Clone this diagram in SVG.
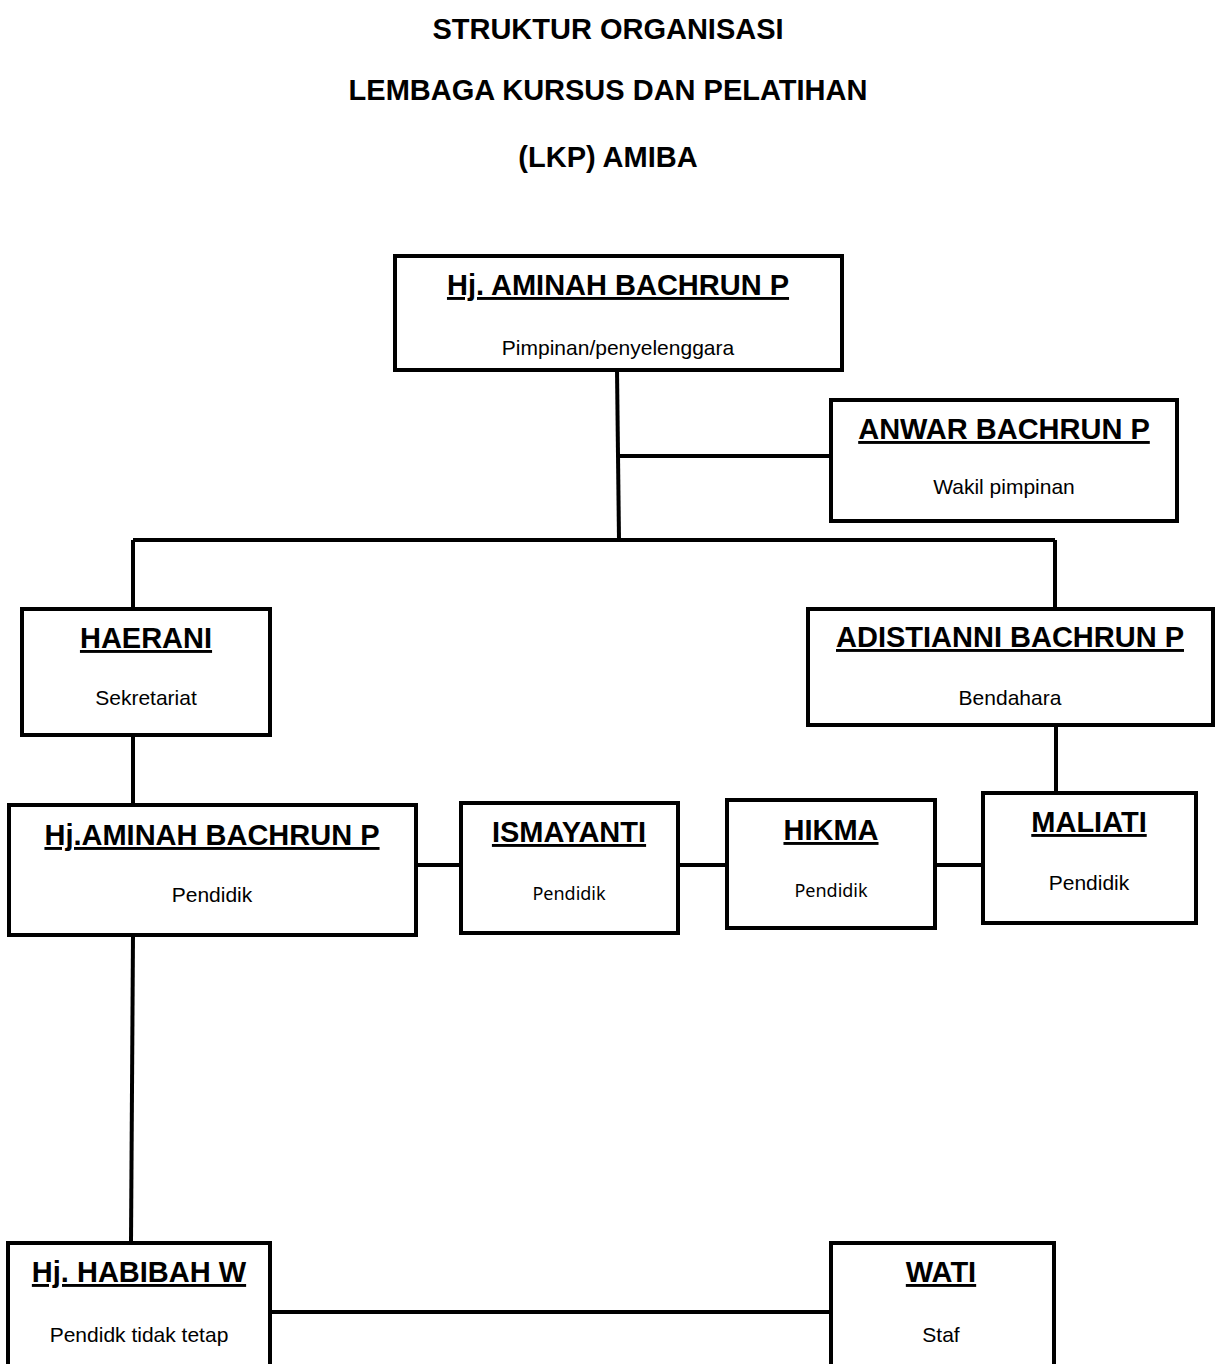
<svg xmlns="http://www.w3.org/2000/svg" width="1215" height="1364" viewBox="0 0 1215 1364">
<style>
.box{fill:#fff;stroke:#000;stroke-width:4}
.ln{stroke:#000;stroke-width:4;fill:none}
.t{font-family:"Liberation Sans",Arial,sans-serif;font-weight:bold;font-size:29px;text-anchor:middle;fill:#000}
.n{font-family:"Liberation Sans",Arial,sans-serif;font-weight:bold;font-size:29px;text-anchor:middle;fill:#000;text-decoration:underline;text-decoration-thickness:3px}
.s{font-family:"Liberation Sans",Arial,sans-serif;font-size:21px;text-anchor:middle;fill:#000}
.c{font-family:"Noto Sans",sans-serif;font-size:18px;text-anchor:middle;fill:#000}
</style>
<rect width="1215" height="1364" fill="#fff"/>
<g id="title">
<text class="t" x="608" y="39">STRUKTUR ORGANISASI</text>
<text class="t" x="608" y="100">LEMBAGA KURSUS DAN PELATIHAN</text>
<text class="t" x="608" y="167">(LKP) AMIBA</text>
</g>
<g id="connectors">
<path class="ln" d="M617 370 L619 540"/>
<path class="ln" d="M619 456 H831"/>
<path class="ln" d="M133 540 H1055"/>
<path class="ln" d="M133 540 V609"/>
<path class="ln" d="M1055 540 V608"/>
<path class="ln" d="M133 735 V805"/>
<path class="ln" d="M1056 725 V793"/>
<path class="ln" d="M416 865 H461"/>
<path class="ln" d="M678 865 H727"/>
<path class="ln" d="M935 865 H983"/>
<path class="ln" d="M133 935 L131 1243"/>
<path class="ln" d="M270 1312 H831"/>
</g>
<g id="n-pimpinan">
<rect class="box" x="395" y="256" width="447" height="114"/>
<text class="n" x="618" y="295">Hj. AMINAH BACHRUN P</text>
<text class="s" x="618" y="355">Pimpinan/penyelenggara</text>
</g>
<g id="n-wakil">
<rect class="box" x="831" y="400" width="346" height="121"/>
<text class="n" x="1004" y="439">ANWAR BACHRUN P</text>
<text class="s" x="1004" y="494">Wakil pimpinan</text>
</g>
<g id="n-sekretariat">
<rect class="box" x="22" y="609" width="248" height="126"/>
<text class="n" x="146" y="648">HAERANI</text>
<text class="s" x="146" y="705">Sekretariat</text>
</g>
<g id="n-bendahara">
<rect class="box" x="808" y="609" width="405" height="116"/>
<text class="n" x="1010" y="647">ADISTIANNI BACHRUN P</text>
<text class="s" x="1010" y="705">Bendahara</text>
</g>
<g id="n-pendidik1">
<rect class="box" x="9" y="805" width="407" height="130"/>
<text class="n" x="212" y="845">Hj.AMINAH BACHRUN P</text>
<text class="s" x="212" y="902">Pendidik</text>
</g>
<g id="n-ismayanti">
<rect class="box" x="461" y="803" width="217" height="130"/>
<text class="n" x="569" y="842">ISMAYANTI</text>
<text class="c" x="569" y="900">Pendidik</text>
</g>
<g id="n-hikma">
<rect class="box" x="727" y="800" width="208" height="128"/>
<text class="n" x="831" y="840">HIKMA</text>
<text class="c" x="831" y="897">Pendidik</text>
</g>
<g id="n-maliati">
<rect class="box" x="983" y="793" width="213" height="130"/>
<text class="n" x="1089" y="832">MALIATI</text>
<text class="s" x="1089" y="890">Pendidik</text>
</g>
<g id="n-habibah">
<rect class="box" x="8" y="1243" width="262" height="140"/>
<text class="n" x="139" y="1282">Hj. HABIBAH W</text>
<text class="s" x="139" y="1342">Pendidk tidak tetap</text>
</g>
<g id="n-wati">
<rect class="box" x="831" y="1243" width="223" height="140"/>
<text class="n" x="941" y="1282">WATI</text>
<text class="s" x="941" y="1342">Staf</text>
</g>
</svg>
